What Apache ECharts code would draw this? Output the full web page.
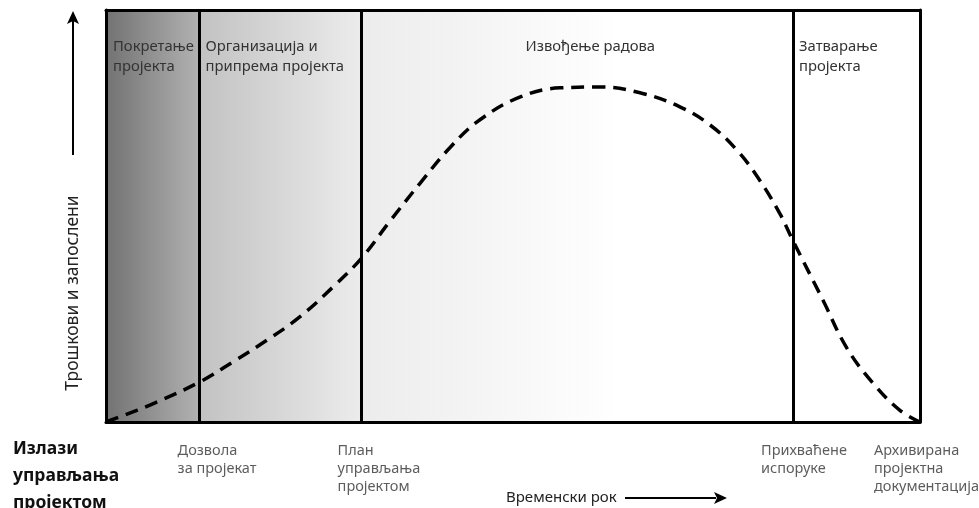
<!DOCTYPE html>
<html>
<head>
<meta charset="utf-8">
<script src="https://cdn.jsdelivr.net/npm/echarts@6/dist/echarts.min.js"></script>
<style>html,body{margin:0;padding:0;background:#fff}#c{width:979px;height:508px}</style>
</head>
<body>
<div id="c"></div>
<script>
// Phase boundaries (time units, 0..100)
const phaseStarts = [0, 11.5, 31.4, 84.4];
const phaseEnds   = [11.5, 31.4, 84.4, 100];
const phaseNames  = ['Покретање\nпројекта', 'Организација и\nприпрема пројекта', 'Извођење радова', 'Затварање\nпројекта'];
// Milestones (outputs)
const milestoneX     = [11.5, 31.4, 84.4, 100];
const milestoneNames = ['Дозвола\nза пројекат', 'План\nуправљања\nпројектом', 'Прихваћене\nиспоруке', 'Архивирана\nпројектна\nдокументација'];
// Effort curve
const curveX = [0, 2.3, 5.4, 11.5, 15.6, 19.8, 23.8, 27.9, 31.4, 34.9, 38.6, 42.3, 45.9, 50.9, 55.8, 60.7, 65.6, 70.5, 74.2, 77.5, 80.3, 82.8, 84.4, 88.1, 91.0, 94.2, 97.5, 100];
const curveY = [0, 1.7, 4.1, 9.7, 14.6, 19.9, 25.5, 32.8, 39.8, 48.8, 58.0, 66.7, 73.3, 78.9, 81.1, 81.3, 79.9, 76.5, 72.1, 66.0, 58.7, 50.5, 44.0, 29.5, 18.0, 9.5, 2.9, 0];
const yTitle = 'Трошкови и запослени';
const xTitle = 'Временски рок';
const outputsTitle = 'Излази\nуправљања\nпројектом';

const grads = [
  [['#727272',0],['#b2b2b2',1]],
  [['#c2c2c2',0],['#ececec',1]],
  [['#ececec',0],['#ffffff',0.6],['#ffffff',1]],
  [['#ffffff',0],['#ffffff',1]]
];
const labelPos = ['insideTopLeft','insideTopLeft','insideTop','insideTopLeft'];
const labelOff = [[2,22],[1,22],[13,22],[1,22]];
const msOff = [[-22,20],[-24,20],[-32,20],[-46,20]];

const chart = echarts.init(document.getElementById('c'));
const font = '"Noto Sans", "Open Sans", sans-serif';
const axisCommon = {
  type:'value', min:0, max:100, z:10,
  axisLine:{show:true, onZero:false, lineStyle:{color:'#000', width:3}},
  axisTick:{show:false}, axisLabel:{show:false}, splitLine:{show:false}
};
chart.setOption({
  animation:false,
  grid:{left:106, right:59, top:10, bottom:86},
  xAxis:[Object.assign({position:'bottom'}, axisCommon), Object.assign({position:'top'}, axisCommon)],
  yAxis:[Object.assign({position:'left'}, axisCommon), Object.assign({position:'right'}, axisCommon)],
  series:[
    {
      type:'line', silent:true,
      data: curveX.map((x,i)=>[x, curveY[i]]),
      smooth:0.4, showSymbol:false, z:5,
      lineStyle:{color:'#000', width:3.5, type:[13,8]},
      markArea:{
        silent:true,
        data: phaseStarts.map((s,i)=>[
          {xAxis:s, yAxis:0, name:phaseNames[i],
           itemStyle:{color:{type:'linear',x:0,y:0,x2:1,y2:0,
             colorStops:grads[i].map(g=>({color:g[0], offset:g[1]}))}},
           label:{show:true, position:labelPos[i], offset:labelOff[i], color:'#333',
             fontFamily:font, fontSize:14.8, lineHeight:20}},
          {xAxis:phaseEnds[i], yAxis:100}
        ])
      },
      markLine:{
        silent:true, symbol:'none', label:{show:false},
        lineStyle:{color:'#000', width:3, type:'solid'},
        data: phaseStarts.slice(1).map(x=>({xAxis:x}))
      }
    },
    {
      type:'scatter', silent:true, clip:false, symbolSize:0,
      data: milestoneX.map((x,i)=>({value:[x,0], name:milestoneNames[i],
        label:{show:true, position:msOff[i], align:'left', verticalAlign:'top',
          formatter:'{b}', color:'#333', fontFamily:font, fontSize:14.5, lineHeight:18}}))
    }
  ],
  graphic:[
    {type:'text', x:73, y:293, rotation:Math.PI/2, style:{text:yTitle, font:'17.5px '+font, fill:'#222', textAlign:'center', textVerticalAlign:'middle'}},
    {type:'line', shape:{x1:73, y1:155, x2:73, y2:20}, style:{stroke:'#000', lineWidth:2}},
    {type:'polygon', shape:{points:[[73,11],[67,24],[73,21],[79,24]]}, style:{fill:'#000'}},
    {type:'text', x:13, y:436, style:{text:outputsTitle, font:'bold 17.5px '+font, fill:'#111', lineHeight:27, textVerticalAlign:'top'}},
    {type:'text', x:506, y:498, style:{text:xTitle, font:'15px '+font, fill:'#222', textVerticalAlign:'middle'}},
    {type:'line', shape:{x1:625, y1:498, x2:716, y2:498}, style:{stroke:'#000', lineWidth:2}},
    {type:'polygon', shape:{points:[[727,498],[714,492],[717,498],[714,504]]}, style:{fill:'#000'}}
  ]
});
</script>
</body>
</html>
